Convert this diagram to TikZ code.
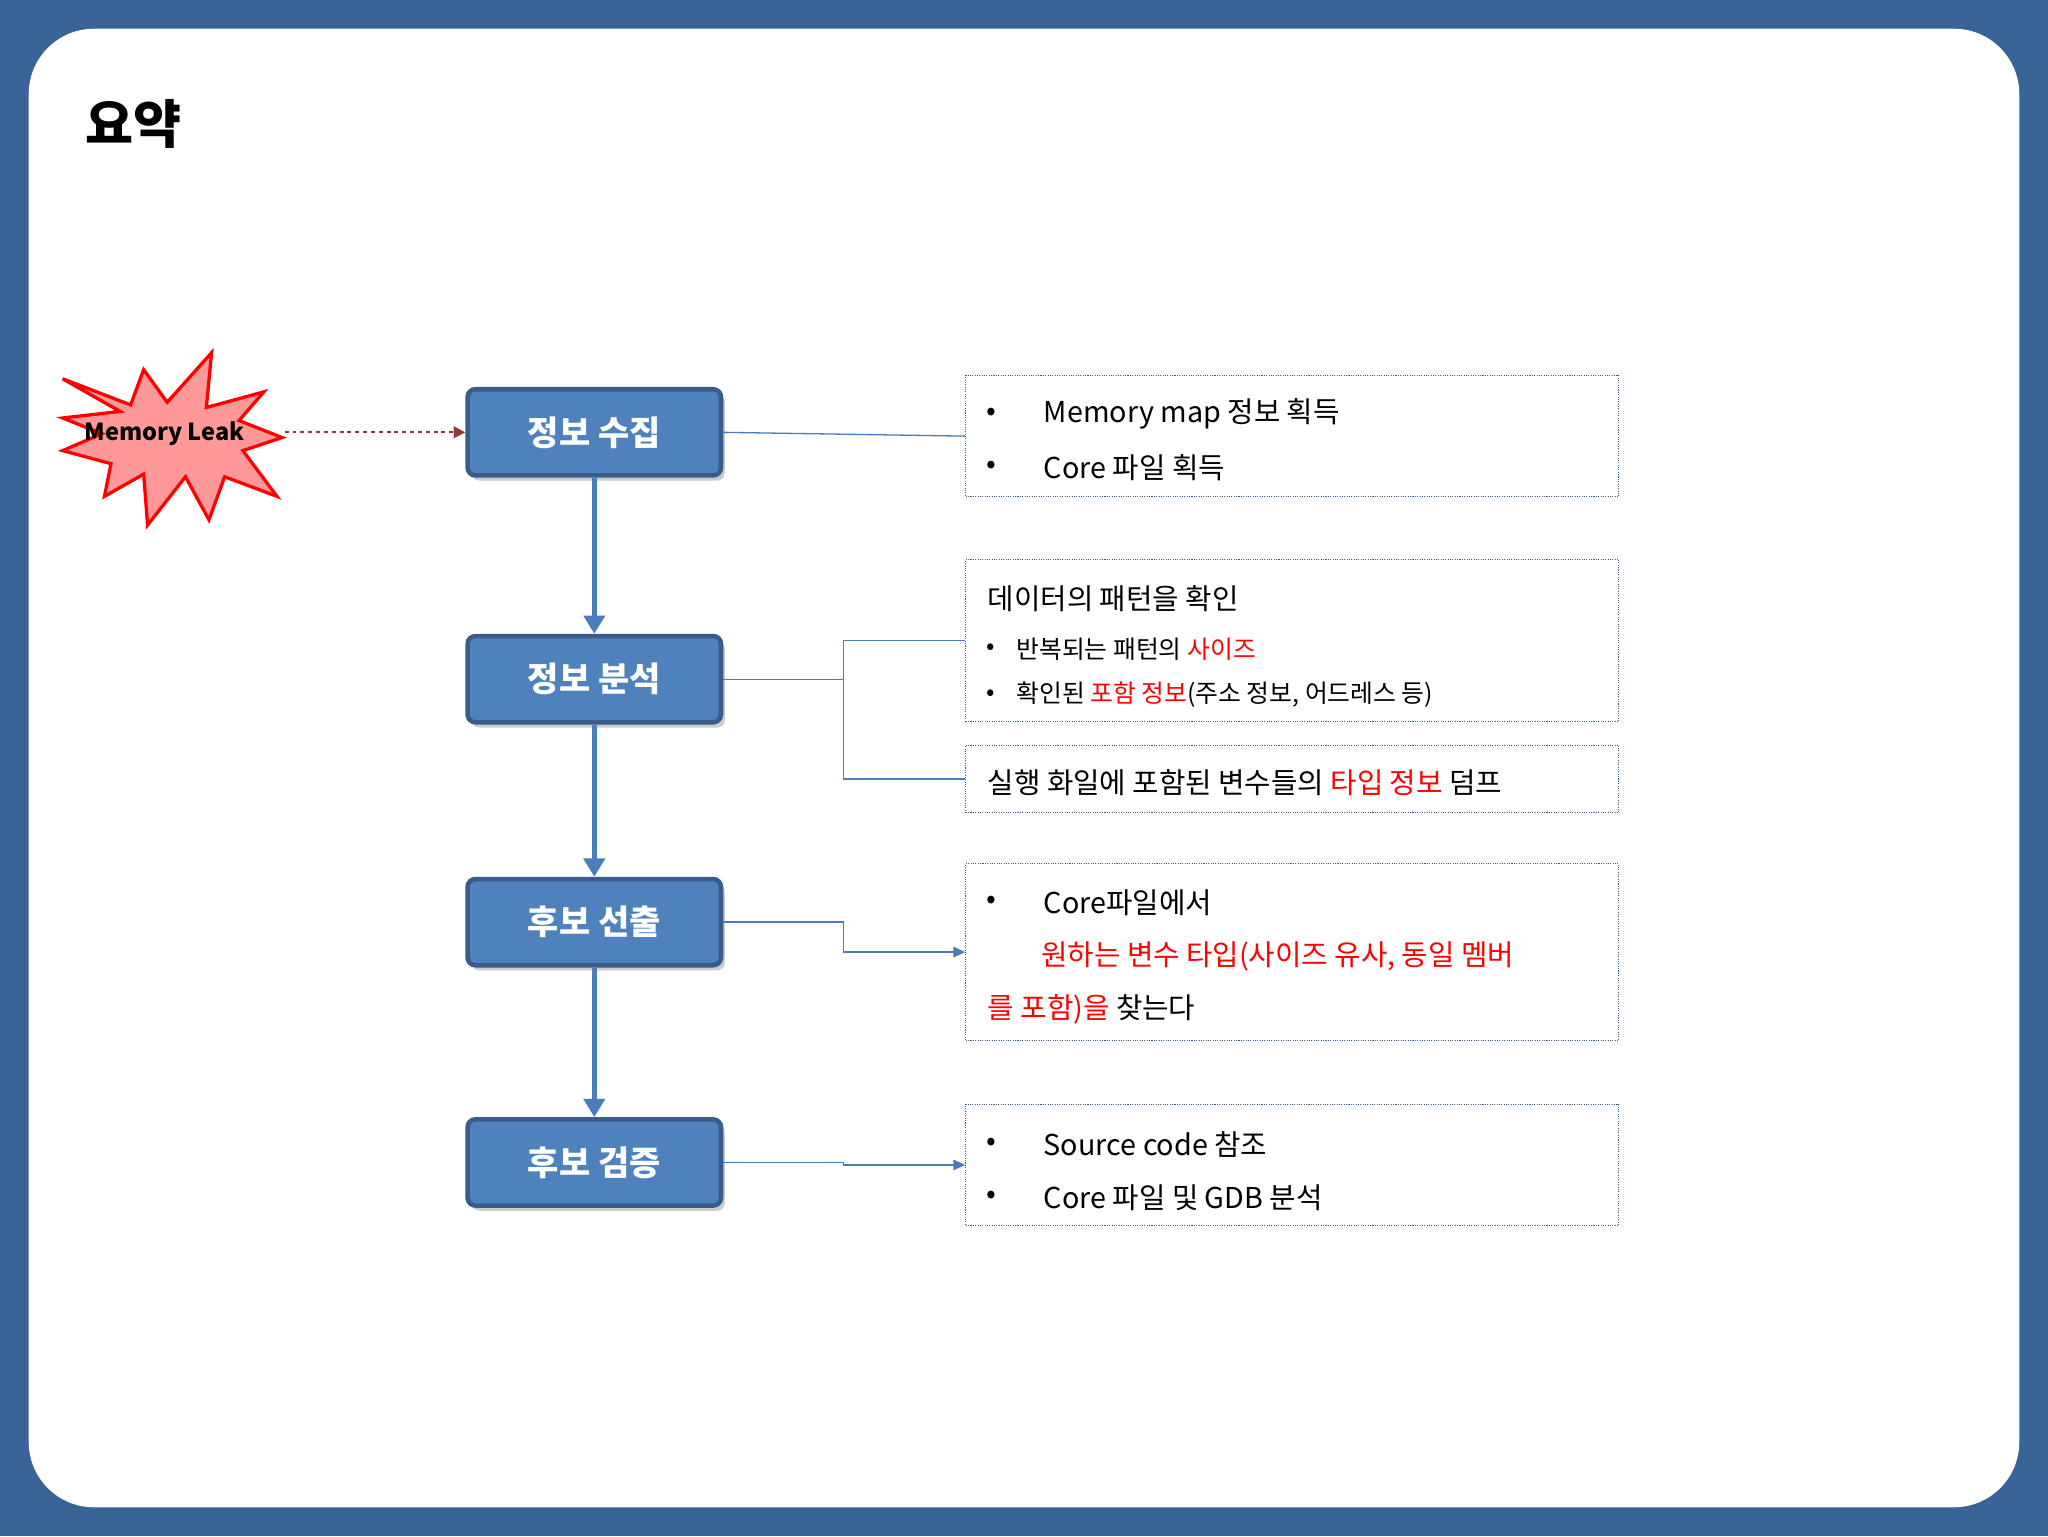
\documentclass[tikz,border=0pt]{standalone}
\usepackage{fontspec}
\setmainfont{Noto Sans CJK KR}
\usetikzlibrary{arrows.meta,shadows}
\definecolor{bgblue}{HTML}{3A6497}
\definecolor{boxblue}{HTML}{4F81BD}
\definecolor{boxedge}{HTML}{385D8A}
\definecolor{linkblue}{HTML}{4A7EBB}
\definecolor{darkred}{HTML}{953735}
\tikzset{
 stage/.style={draw=boxedge,line width=3.5pt,fill=boxblue,rounded corners=6pt,minimum width=194pt,minimum height=66pt,text=white,font=\fontsize{26}{30}\selectfont\bfseries,drop shadow={shadow xshift=3pt,shadow yshift=-4pt,opacity=0.4}},
 info/.style={draw=boxedge,densely dotted,line width=0.8pt,anchor=north west,minimum width=500pt,inner sep=0pt},
 txt/.style={anchor=west,font=\fontsize{22}{26}\selectfont,inner sep=0pt},
 stxt/.style={anchor=west,font=\fontsize{19}{22}\selectfont,inner sep=0pt},
 flow/.style={line width=4pt,linkblue,-{Triangle[length=14pt,width=16pt]}},
 link/.style={line width=1pt,linkblue},
 linka/.style={line width=1pt,linkblue,-{Triangle[length=9pt,width=8pt]}}
}
\begin{document}
\begin{tikzpicture}[x=1pt,y=-1pt]
\useasboundingbox (0,0) rectangle (1568,1176);
\fill[bgblue] (0,0) rectangle (1568,1176);
\fill[white,rounded corners=50pt] (22,22) rectangle (1546,1154);
\node[anchor=west,font=\fontsize{40}{44}\selectfont\bfseries] (title) at (62,95) {요약};
% starburst
\draw[red,line width=2.5pt,fill=red!40,line join=miter]
 (48,290)--(100,310)--(110,283)--(128,308)--(162,270)--(158,312)--(202,300)--(183,322)--(216,335)--(186,345)--(212,380)--(172,365)--(160,398)--(142,365)--(113,402)--(110,363)--(80,380)--(85,355)--(48,345)--(78,332)--(48,320)--(92,315)--cycle;
\node[font=\fontsize{18}{22}\selectfont\bfseries] (ml) at (126,332) {Memory Leak};
\coordinate (mlr) at (218,331);
% stages
\node[stage] (s1) at (455,331) {정보 수집};
\node[stage] (s2) at (455,520) {정보 분석};
\node[stage] (s3) at (455,706) {후보 선출};
\node[stage] (s4) at (455,890) {후보 검증};
\draw[darkred,line width=1.5pt,dashed,-{Triangle[length=9pt,width=9pt]}] (mlr) -- (s1.west);
\draw[flow] (s1) -- (s2);
\draw[flow] (s2) -- (s3);
\draw[flow] (s3) -- (s4);
% info boxes
\node[info,minimum height=93pt] (b1) at (739,287) {};
\node[info,minimum height=124pt] (b2) at (739,428) {};
\node[info,minimum height=52pt] (b3) at (739,570) {};
\node[info,minimum height=135pt] (b4) at (739,661) {};
\node[info,minimum height=93pt] (b5) at (739,845) {};
% texts
\node[txt] at (755,317) {•};
\node[txt] at (799,317) {Memory map 정보 획득};
\node[txt] at (755,358) {•};
\node[txt] at (799,358) {Core 파일 획득};
\node[txt] at (756,458) {데이터의 패턴을 확인};
\node[stxt] at (755,497) {•};
\node[stxt] at (778,497) {반복되는 패턴의 \textcolor{red}{ 사이즈}};
\node[stxt] at (755,532) {•};
\node[stxt] at (778,532) {확인된 \textcolor{red}{포함 정보}(주소 정보, 어드레스 등)};
\node[txt] at (756,599) {실행 화일에 포함된 변수들의 \textcolor{red}{타입 정보} 덤프};
\node[txt] at (755,691) {•};
\node[txt] at (799,691) {Core파일에서};
\node[txt,text=red] at (797,732) {원하는 변수 타입(사이즈 유사, 동일 멤버};
\node[txt] at (756,773) {\textcolor{red}{를 포함)을} 찾는다};
\node[txt] at (755,876) {•};
\node[txt] at (799,876) {Source code 참조};
\node[txt] at (755,917) {•};
\node[txt] at (799,917) {Core 파일 및 GDB 분석};
% connectors
\draw[link] (s1.east) -- (b1.west);
\draw[link] (s2.east) -- (646,520) |- (b2.west);
\draw[link] (646,520) |- (b3.west);
\draw[linka] (s3.east) -- (646,706) |- (b4.west);
\draw[linka] (s4.east) -- (646,890) |- (b5.west);
\end{tikzpicture}
\end{document}
